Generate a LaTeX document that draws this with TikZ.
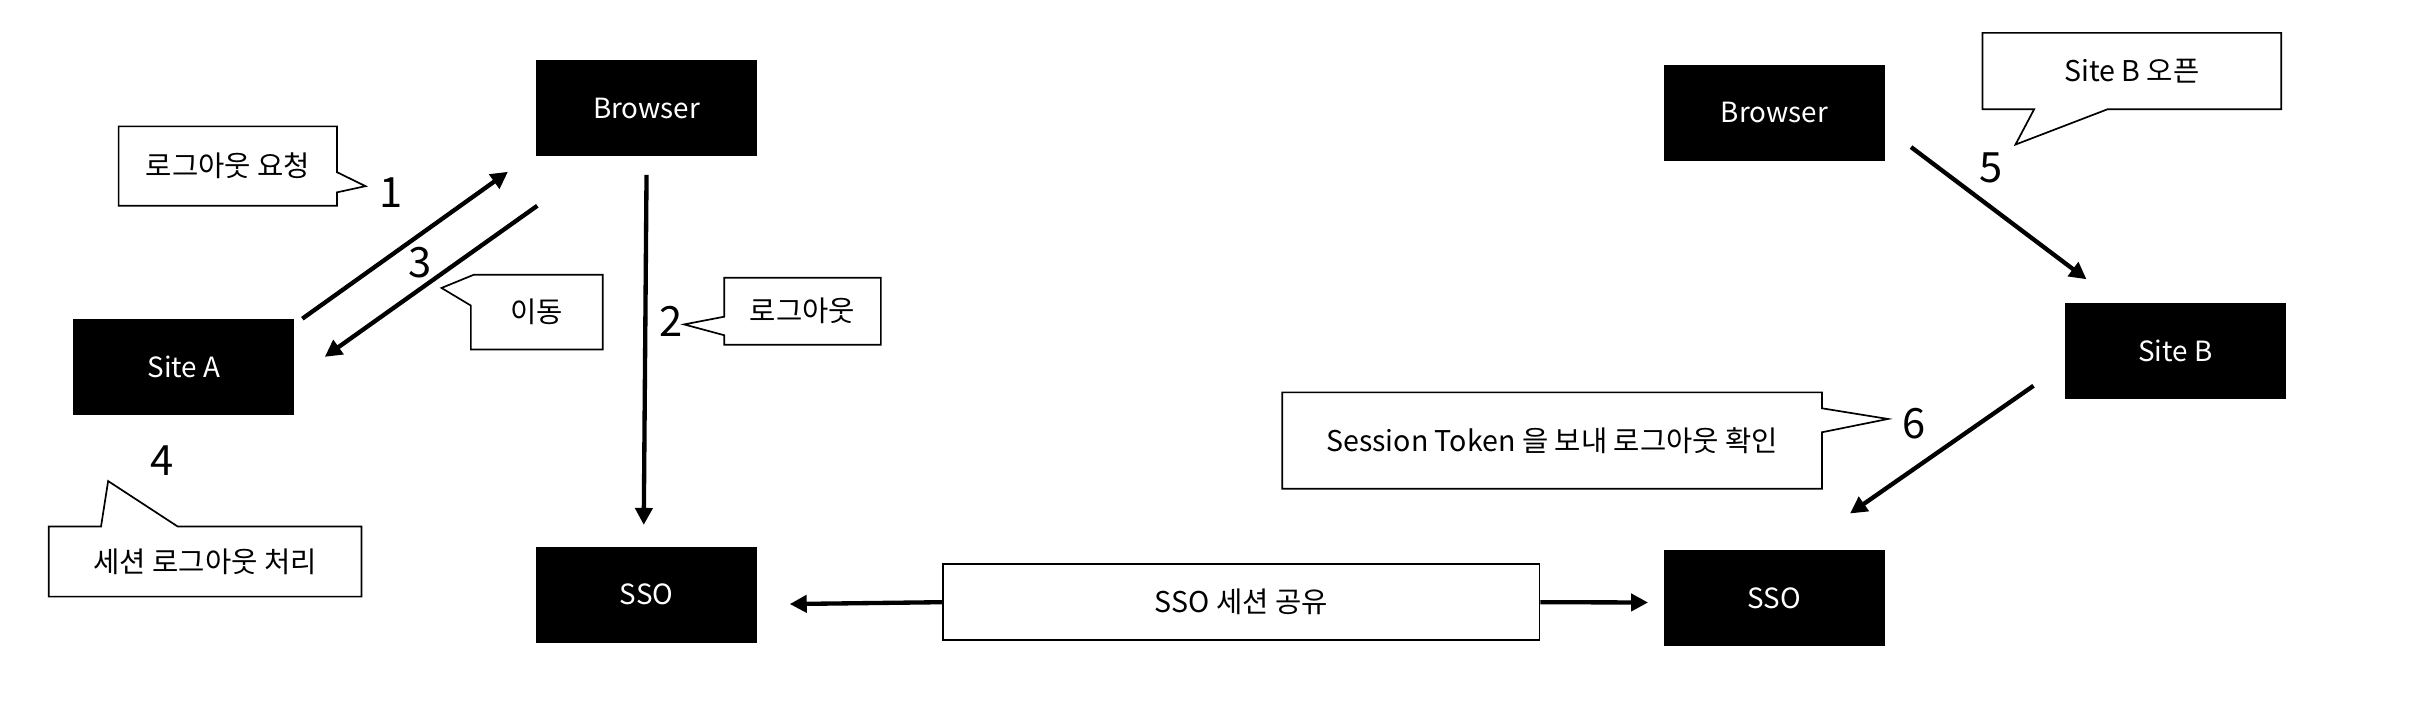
\documentclass[tikz,border=0pt]{standalone}
\usepackage{fontspec}
\setmainfont{Noto Sans CJK KR}
\usepackage{tikz}
\usetikzlibrary{arrows.meta}

\begin{document}
\begin{tikzpicture}[x=1pt,y=1pt,
	box/.style={fill=black,text=white,minimum width=143pt,minimum height=62pt,inner sep=0pt,font=\fontsize{18}{20}\selectfont},
	note/.style={inner sep=0pt,font=\fontsize{18.5}{21}\selectfont},
	num/.style={font=\fontsize{27}{30}\selectfont},
	edge/.style={line width=2.8pt,-{Triangle[length=11pt,width=11pt]}},
	outline/.style={line width=1.1pt,line join=miter}]

	\useasboundingbox (0,0) rectangle (1560,466);

	% black boxes
	\node[box] (browserA) at (418.5,396) {Browser};
	\node[box] (siteA) at (119,228.5) {Site A};
	\node[box] (ssoA) at (418.5,81) {SSO};
	\node[box] (browserB) at (1148.5,393) {Browser};
	\node[box] (siteB) at (1408,239) {Site B};
	\node[box] (ssoB) at (1148.5,78.7) {SSO};

	% callouts
	\node[note,minimum width=141pt,minimum height=51pt] (reqNote) at (147.5,358.5) {로그아웃 요청};
	\draw[outline] (reqNote.north west) -- (reqNote.north east) -- ([yshift=-4pt]reqNote.east) -- ([shift={(18.4,-13)}]reqNote.east) -- ([yshift=-17pt]reqNote.east) -- (reqNote.south east) -- (reqNote.south west) -- cycle;

	\node[note,minimum width=85pt,minimum height=48pt] (moveNote) at (347.5,264) {이동};
	\draw[outline] ([xshift=2pt]moveNote.north west) -- (moveNote.north east) -- (moveNote.south east) -- (moveNote.south west) -- ([yshift=-20pt]moveNote.north west) -- ([shift={(-19,-8.6)}]moveNote.north west) -- cycle;

	\node[note,minimum width=101pt,minimum height=43pt] (outNote) at (519.5,264.5) {로그아웃};
	\draw[outline] (outNote.north west) -- (outNote.north east) -- (outNote.south east) -- (outNote.south west) -- ([yshift=-15.5pt]outNote.west) -- ([shift={(-26,-8.5)}]outNote.west) -- ([yshift=-3.5pt]outNote.west) -- cycle;

	\node[note,minimum width=202pt,minimum height=45pt] (doneNote) at (132.8,102.5) {세션 로그아웃 처리};
	\draw[outline] (doneNote.north west) -- ([xshift=-67.4pt]doneNote.north) -- ([shift={(-62.8,29.4)}]doneNote.north) -- ([xshift=-17.8pt]doneNote.north) -- (doneNote.north east) -- (doneNote.south east) -- (doneNote.south west) -- cycle;

	\node[note,minimum width=193pt,minimum height=49pt] (openNote) at (1380,420) {Site B 오픈};
	\draw[outline] (openNote.north west) -- (openNote.north east) -- (openNote.south east) -- ([xshift=-15.7pt]openNote.south) -- ([shift={(-75.4,-22.9)}]openNote.south) -- ([xshift=-63.3pt]openNote.south) -- (openNote.south west) -- cycle;

	\node[note,minimum width=349pt,minimum height=62pt] (tokenNote) at (1004.7,180.8) {Session Token 을 보내 로그아웃 확인};
	\draw[outline] (tokenNote.north west) -- (tokenNote.north east) -- ([yshift=20.9pt]tokenNote.east) -- ([shift={(42.7,14)}]tokenNote.east) -- ([yshift=5.4pt]tokenNote.east) -- (tokenNote.south east) -- (tokenNote.south west) -- cycle;

	\node[note,draw,line width=1.1pt,minimum width=386pt,minimum height=49pt] (shareNote) at (803.5,76.2) {SSO 세션 공유};

	% step numbers
	\foreach \n/\x/\y in {1/253/341,2/434.5/258,3/272/296,4/105/168,5/1289/357.6,6/1239/192}{
		\node[num] (n\n) at (\x,\y) {\n};
	}

	% arrows
	\draw[edge] ([xshift=5pt]siteA.north east) -- ([shift={(-18,-10)}]browserA.south west);
	\draw[edge] ([shift={(1,-32)}]browserA.south west) -- ([shift={(19.5,6.5)}]siteA.east);
	\draw[edge] ([yshift=-12pt]browserA.south) -- ([shift={(-1.8,14)}]ssoA.north);
	\draw[edge] ([shift={(16.8,9)}]browserB.south east) -- ([shift={(14.3,15)}]siteB.north west);
	\draw[edge] ([shift={(-20,8.5)}]siteB.south west) -- ([shift={(49,23.7)}]ssoB.north);
	\draw[edge] (shareNote.west) -- ([shift={(21,-6)}]ssoA.east);
	\draw[edge] (shareNote.east) -- ([shift={(-10,-2.7)}]ssoB.west);
\end{tikzpicture}
\end{document}
